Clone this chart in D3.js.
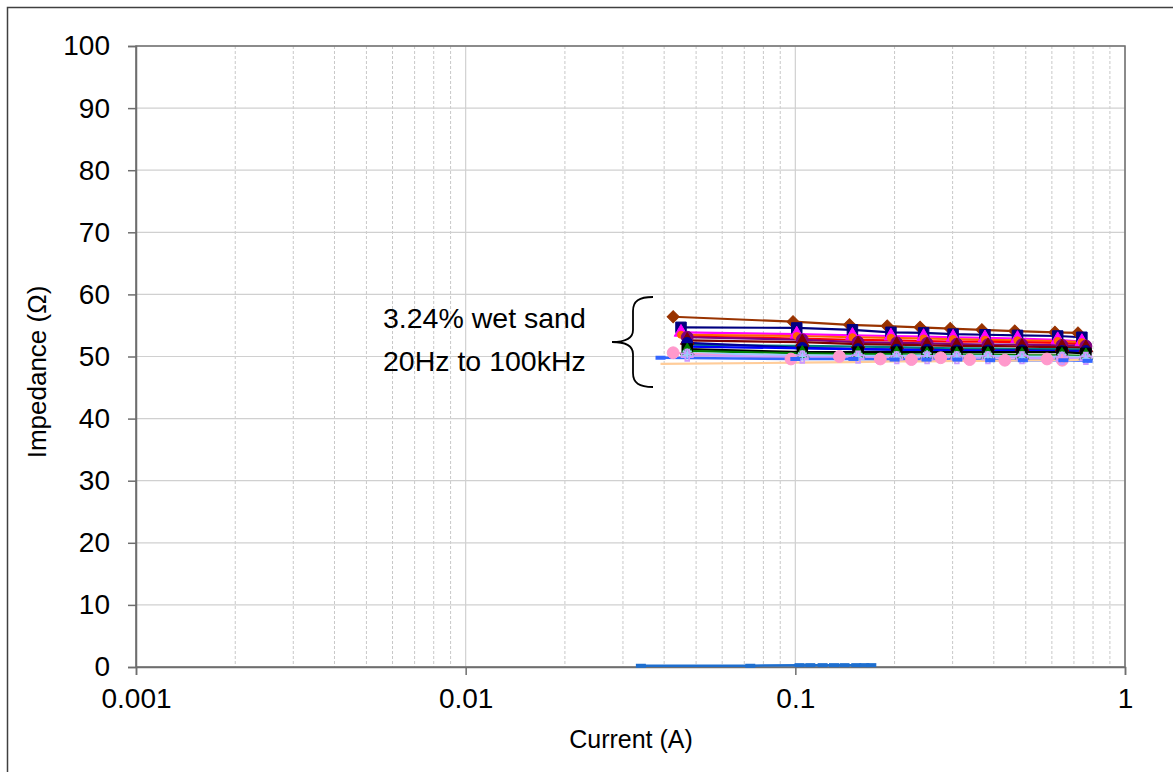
<!DOCTYPE html>
<html>
<head>
<meta charset="utf-8">
<script src="https://cdn.jsdelivr.net/npm/d3@7"></script>
<style>
  html, body { margin: 0; padding: 0; background: #fff; }
  svg { display: block; font-family: "Liberation Sans", Arial, sans-serif; }
</style>
</head>
<body>
<svg id="chart" width="1173" height="772"></svg>
<script>
// Impedance vs current, 3.24% wet sand, 20 Hz to 100 kHz
const yTicks = [0, 10, 20, 30, 40, 50, 60, 70, 80, 90, 100];
const xTicks = [0.001, 0.01, 0.1, 1];
const xTickLabels = ["0.001", "0.01", "0.1", "1"];

// current sweeps (A)
const currentA = [0.0426, 0.0984, 0.146, 0.19, 0.239, 0.295, 0.368, 0.463, 0.613, 0.72];
const currentB = [0.045, 0.101, 0.149, 0.195, 0.245, 0.301, 0.376, 0.472, 0.625, 0.74];
const currentC = [0.047, 0.105, 0.155, 0.203, 0.251, 0.309, 0.384, 0.487, 0.644, 0.761];
const currentPink = [0.0426, 0.097, 0.136, 0.181, 0.225, 0.276, 0.338, 0.432, 0.58, 0.645];
const currentD = [0.039, 0.1, 0.15, 0.2, 0.25, 0.31, 0.39, 0.49, 0.65, 0.77];
const currentZero = [0.034, 0.073, 0.103, 0.111, 0.121, 0.131, 0.141, 0.153, 0.162, 0.17];

// impedance readings (Ω) for each frequency
const z1 = [56.4, 55.6, 55.1, 54.9, 54.7, 54.5, 54.3, 54.1, 53.9, 53.8];
const z2 = [54.7, 54.6, 54.3, 53.9, 53.8, 53.6, 53.5, 53.4, 53.3, 53.1];
const z3 = [53.9, 53.6, 53.4, 53.3, 53.2, 53.1, 53.0, 52.9, 52.7, 52.4];
const z4 = [53.5, 53.3, 53.1, 53.0, 52.9, 52.8, 52.7, 52.6, 52.5, 52.3];
const z5 = [53.2, 52.9, 52.7, 52.6, 52.5, 52.4, 52.4, 52.3, 52.2, 52.0];
const z6 = [53.1, 52.7, 52.3, 52.2, 52.1, 52.0, 51.9, 51.9, 51.8, 51.7];
const z7 = [52.6, 52.3, 52.0, 51.9, 51.8, 51.7, 51.7, 51.6, 51.5, 51.4];
const z8 = [51.9, 51.7, 51.6, 51.5, 51.4, 51.3, 51.3, 51.2, 51.2, 51.1];
const z9 = [52.2, 51.4, 51.2, 51.1, 51.1, 51.0, 51.0, 51.0, 50.9, 50.9];
const z10 = [51.6, 51.3, 51.2, 51.1, 51.0, 51.0, 50.9, 50.9, 50.8, 50.8];
const z11 = [51.2, 50.7, 50.7, 50.7, 50.7, 50.7, 50.7, 50.7, 50.7, 50.5];
const z12 = [50.9, 50.5, 50.4, 50.4, 50.3, 50.3, 50.3, 50.2, 50.2, 50.1];
const z13 = [50.5, 50.2, 50.1, 50.1, 50.2, 50.1, 50.1, 50.0, 50.0, 49.9];
const z14 = [50.6, 49.6, 50.0, 49.6, 49.5, 49.8, 49.5, 49.4, 49.6, 49.4];
const z15 = [50.2, 49.9, 49.9, 49.8, 49.8, 49.8, 49.8, 49.8, 49.7, 49.7];
const z16 = [49.8, 49.6, 49.6, 49.5, 49.5, 49.5, 49.4, 49.4, 49.4, 49.3];
const z17 = [48.8, 49.0, 49.1, 49.2, 49.2, 49.3, 49.3, 49.4, 49.4, 49.5];
const zZero = [0.2, 0.2, 0.3, 0.3, 0.3, 0.3, 0.3, 0.3, 0.3, 0.3];

const seriesColors = ["#993300", "#000080", "#FF00FF", "#FF6600", "#FF0000", "#800080",
  "#800000", "#008080", "#000099", "#0000FF", "#000000", "#008000", "#99CCFF",
  "#FF99CC", "#CC99FF", "#3366FF", "#FFCC99", "#1E6FD0"];
const seriesMarkers = ["diamond", "square", "triangle", "circle", "none", "circle",
  "triangle", "none", "circle", "none", "square", "triangle", "star",
  "circle", "plus", "dash", "none", "dash"];
const markerSizes = [90, 110, 80, 40, 0, 110, 80, 0, 90, 0, 110, 80, 70, 110, 70, 0, 0, 0];

const series = [
  { x: currentA, y: z1 }, { x: currentB, y: z2 }, { x: currentB, y: z3 },
  { x: currentB, y: z4 }, { x: currentB, y: z5 }, { x: currentC, y: z6 },
  { x: currentC, y: z7 }, { x: currentC, y: z8 }, { x: currentC, y: z9 },
  { x: currentC, y: z10 }, { x: currentC, y: z11 }, { x: currentC, y: z12 },
  { x: currentC, y: z13 }, { x: currentPink, y: z14 }, { x: currentC, y: z15 },
  { x: currentD, y: z16 }, { x: currentD, y: z17 }, { x: currentZero, y: zZero }
].map((s, i) => ({ ...s, color: seriesColors[i], marker: seriesMarkers[i], size: markerSizes[i] }));

const svg = d3.select("#chart");
const W = 1173, H = 772;
const plot = { left: 136, top: 46, right: 1125, bottom: 667 };

// outer chart frame
svg.append("rect").attr("x", 7.5).attr("y", 7.5).attr("width", W + 20).attr("height", H + 20)
  .attr("fill", "#fff").attr("stroke", "#404040").attr("stroke-width", 1.5);

const x = d3.scaleLog().domain([0.001, 1]).range([plot.left, plot.right]);
const y = d3.scaleLinear().domain([0, 100]).range([plot.bottom, plot.top]);

// grid
const grid = svg.append("g");
const minor = [];
for (let d = 0.001; d < 1; d *= 10) {
  for (let k = 2; k <= 9; k++) minor.push(d * k);
}
grid.selectAll("line.minor").data(minor).join("line")
  .attr("x1", d => x(d)).attr("x2", d => x(d))
  .attr("y1", plot.top).attr("y2", plot.bottom)
  .attr("stroke", "#c8c8c8").attr("stroke-width", 1).attr("stroke-dasharray", "3,2");
grid.selectAll("line.major").data(xTicks).join("line")
  .attr("x1", d => x(d)).attr("x2", d => x(d))
  .attr("y1", plot.top).attr("y2", plot.bottom)
  .attr("stroke", "#d0d0d0").attr("stroke-width", 1.2);
grid.selectAll("line.h").data(yTicks).join("line")
  .attr("x1", plot.left).attr("x2", plot.right)
  .attr("y1", d => y(d)).attr("y2", d => y(d))
  .attr("stroke", "#d0d0d0").attr("stroke-width", 1.2);

// plot border
svg.append("rect").attr("x", plot.left).attr("y", plot.top)
  .attr("width", plot.right - plot.left).attr("height", plot.bottom - plot.top)
  .attr("fill", "none").attr("stroke", "#6e6e6e").attr("stroke-width", 1.5);

// axes
const fontSize = 28;
const yAxis = svg.append("g").attr("transform", `translate(${plot.left},0)`)
  .call(d3.axisLeft(y).tickValues(yTicks).tickSize(8).tickPadding(18).tickFormat(d3.format("d")));
const xAxis = svg.append("g").attr("transform", `translate(0,${plot.bottom})`)
  .call(d3.axisBottom(x).tickValues(xTicks).tickSize(8).tickPadding(13)
    .tickFormat((d, i) => xTickLabels[i]));
[yAxis, xAxis].forEach(a => {
  a.select(".domain").attr("stroke", "#6e6e6e").attr("stroke-width", 1.5);
  a.selectAll(".tick line").attr("stroke", "#6e6e6e").attr("stroke-width", 1.5);
  a.selectAll(".tick text").attr("font-size", fontSize).attr("fill", "#000")
    .attr("font-family", "Liberation Sans, Arial, sans-serif");
});

// axis titles
svg.append("text").attr("x", 631).attr("y", 748)
  .attr("text-anchor", "middle").attr("font-size", 25).text("Current (A)");
svg.append("text").attr("transform", `translate(46,372) rotate(-90)`)
  .attr("text-anchor", "middle").attr("font-size", 26).text("Impedance (Ω)");

// series
const line = d3.line().x(d => x(d[0])).y(d => y(d[1]));
const gSeries = svg.append("g");
series.forEach(s => {
  const pts = s.x.map((c, i) => [c, s.y[i]]);
  gSeries.append("path").datum(pts).attr("d", line)
    .attr("fill", "none").attr("stroke", s.color)
    .attr("stroke-width", s.marker === "dash" ? 2.5 : 2.2);
});
const symbolFor = {
  square: d3.symbolSquare, triangle: d3.symbolTriangle,
  circle: d3.symbolCircle, star: d3.symbolAsterisk, plus: d3.symbolCross
};
series.forEach(s => {
  if (s.marker === "none") return;
  const pts = s.x.map((c, i) => [c, s.y[i]]);
  const g = gSeries.append("g");
  if (s.marker === "dash") {
    g.selectAll("rect").data(pts).join("rect")
      .attr("x", d => x(d[0]) - 5).attr("y", d => y(d[1]) - 2)
      .attr("width", 10).attr("height", 4).attr("fill", s.color);
    return;
  }
  if (s.marker === "diamond") {
    // square turned 45°
    g.selectAll("path").data(pts).join("path")
      .attr("transform", d => `translate(${x(d[0])},${y(d[1])}) rotate(45)`)
      .attr("d", d3.symbol().type(d3.symbolSquare).size(s.size * 0.8))
      .attr("fill", s.color).attr("stroke", s.color).attr("stroke-width", 1);
    return;
  }
  const isStroke = s.marker === "star" || s.marker === "plus";
  g.selectAll("path").data(pts).join("path")
    .attr("transform", d => `translate(${x(d[0])},${y(d[1])})`)
    .attr("d", d3.symbol().type(symbolFor[s.marker]).size(s.size))
    .attr("fill", isStroke ? "none" : s.color)
    .attr("stroke", s.color).attr("stroke-width", isStroke ? 1.8 : 1);
});

// annotation
const note = svg.append("g").attr("font-size", 28.5);
note.append("text").attr("x", 383).attr("y", 328).text("3.24% wet sand");
note.append("text").attr("x", 383).attr("y", 371).text("20Hz to 100kHz");
// curly brace grouping the frequency sweep
const bx = 653, bt = 297, bb = 387, bm = 342;
note.append("path")
  .attr("d", `M${bx},${bt} C${bx - 14},${bt} ${bx - 20},${bt + 4} ${bx - 20},${bt + 14}
    L${bx - 20},${bm - 12} C${bx - 20},${bm - 2} ${bx - 30},${bm} ${bx - 41},${bm}
    C${bx - 30},${bm} ${bx - 20},${bm + 2} ${bx - 20},${bm + 12}
    L${bx - 20},${bb - 14} C${bx - 20},${bb - 4} ${bx - 14},${bb} ${bx},${bb}`)
  .attr("fill", "none").attr("stroke", "#000").attr("stroke-width", 1.8);
</script>
</body>
</html>
